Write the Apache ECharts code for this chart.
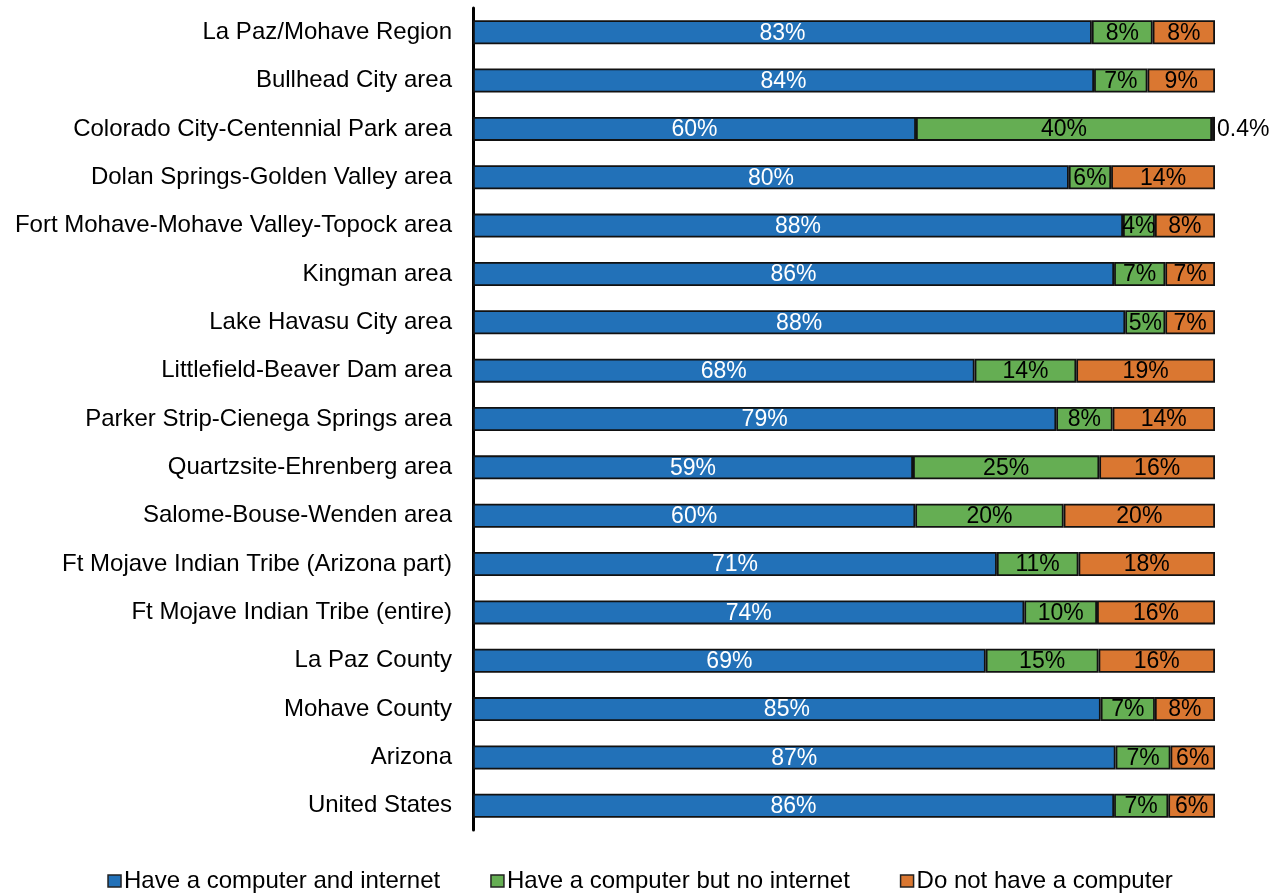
<!DOCTYPE html>
<html>
<head>
<meta charset="utf-8">
<script src="https://cdn.jsdelivr.net/npm/echarts@6/dist/echarts.min.js"></script>
<style>
  html, body { margin: 0; padding: 0; background: #fff; }
  #chart { width: 1280px; height: 895px; }
</style>
</head>
<body>
<div id="chart"></div>
<script>
// Household computer and internet access, share of households (%)
const categories = [
  'La Paz/Mohave Region',
  'Bullhead City area',
  'Colorado City-Centennial Park area',
  'Dolan Springs-Golden Valley area',
  'Fort Mohave-Mohave Valley-Topock area',
  'Kingman area',
  'Lake Havasu City area',
  'Littlefield-Beaver Dam area',
  'Parker Strip-Cienega Springs area',
  'Quartzsite-Ehrenberg area',
  'Salome-Bouse-Wenden area',
  'Ft Mojave Indian Tribe (Arizona part)',
  'Ft Mojave Indian Tribe (entire)',
  'La Paz County',
  'Mohave County',
  'Arizona',
  'United States'
];

const computerAndInternet = [83.4, 83.7, 59.7, 80.3, 87.6, 86.4, 87.9, 67.6, 78.6, 59.3, 59.6, 70.6, 74.3, 69.1, 84.6, 86.6, 86.4];
const computerNoInternet  = [8.2, 7.2, 39.9, 5.7, 4.3, 6.9, 5.4, 13.7, 7.6, 25.1, 20.0, 11.0, 9.8, 15.2, 7.3, 7.4, 7.3];
const noComputer          = [8.4, 9.1, 0.4, 14.0, 8.1, 6.7, 6.7, 18.7, 13.8, 15.6, 20.4, 18.4, 15.9, 15.7, 8.1, 6.0, 6.3];

const seriesNames = ['Have a computer and internet', 'Have a computer but no internet', 'Do not have a computer'];
const colors = ['#2271b8', '#65ae53', '#da7731'];

const fontFamily = 'Arial, "Liberation Sans", Helvetica, sans-serif';

function fmt(v) {
  return (v < 1 ? v.toFixed(1) : Math.round(v)) + '%';
}

// Slices too thin to hold a label get it placed just past the bar end
function toData(values) {
  return values.map(v => v < 2
    ? { value: v, label: { position: 'right', distance: 2, color: '#000' } }
    : v);
}

function makeSeries(name, values, color, labelColor) {
  return {
    name: name,
    type: 'bar',
    stack: 'total',
    barWidth: 24,
    data: toData(values),
    itemStyle: { color: color, borderColor: '#111', borderWidth: 1.8 },
    label: {
      show: true,
      position: 'inside',
      offset: [0, 1],
      color: labelColor,
      fontFamily: fontFamily,
      fontSize: 23,
      formatter: p => fmt(p.value)
    },
    emphasis: { disabled: true }
  };
}

const chart = echarts.init(document.getElementById('chart'), null, { renderer: 'canvas' });

chart.setOption({
  animation: false,
  backgroundColor: '#fff',
  grid: { left: 473, right: 65, top: 8, bottom: 65, containLabel: false },
  legend: {
    top: 869,
    left: 'center',
    padding: 0,
    itemWidth: 13,
    itemHeight: 12,
    itemGap: 50,
    icon: 'rect',
    itemStyle: { borderColor: '#222', borderWidth: 1.5 },
    textStyle: { fontFamily: fontFamily, fontSize: 24, color: '#000', padding: [0, 0, 0, -2] },
    data: seriesNames
  },
  xAxis: {
    type: 'value',
    min: 0,
    max: 100,
    show: false
  },
  yAxis: {
    type: 'category',
    data: categories,
    inverse: true,
    axisLine: { show: true, lineStyle: { color: '#000', width: 3 } },
    axisTick: { show: false },
    axisLabel: { color: '#000', fontFamily: fontFamily, fontSize: 24, margin: 21 },
    splitLine: { show: false }
  },
  series: [
    makeSeries(seriesNames[0], computerAndInternet, colors[0], '#fff'),
    makeSeries(seriesNames[1], computerNoInternet, colors[1], '#000'),
    makeSeries(seriesNames[2], noComputer, colors[2], '#000')
  ]
});
</script>
</body>
</html>
